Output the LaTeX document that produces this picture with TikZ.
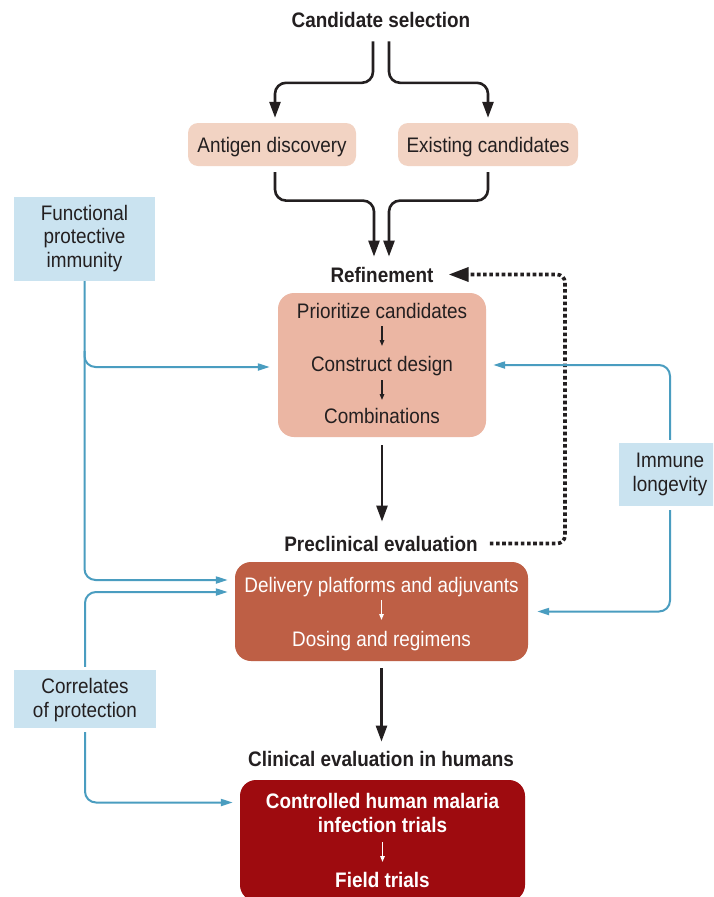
\documentclass[tikz,border=0pt]{standalone}
\usepackage{fontspec}
\setmainfont{Liberation Sans}[FakeStretch=0.9]
\usetikzlibrary{arrows.meta}
\definecolor{ink}{HTML}{231F20}
\definecolor{peach}{HTML}{F2D3C3}
\definecolor{refc}{HTML}{EBB6A3}
\definecolor{prec}{HTML}{BE5F45}
\definecolor{clin}{HTML}{9E0B0F}
\definecolor{lblue}{HTML}{CAE3F0}
\definecolor{bline}{HTML}{4A9DC0}
\tikzset{
  txt/.style={inner sep=0pt, anchor=base, text=ink, font=\fontsize{21}{23.5}\selectfont, align=center},
  btxt/.style={txt, font=\fontsize{21}{23.5}\selectfont\bfseries},
  wtxt/.style={txt, text=white},
  wbtxt/.style={btxt, text=white},
  boxbase/.style={draw=none, inner sep=0pt},
  peachbox/.style={boxbase, fill=peach, rounded corners=10pt},
  bigbox/.style={boxbase, rounded corners=16pt},
  bluebox/.style={boxbase, fill=lblue},
  blkarrow/.style={draw=ink, line width=2.6pt, rounded corners=11pt, -{Triangle[length=16pt,width=11pt]}},
  dotarrow/.style={draw=ink, line width=3.6pt, dash pattern=on 3.6pt off 2.6pt, rounded corners=8pt, -{Triangle[length=20pt,width=14pt]}},
  bluarrow/.style={draw=bline, line width=2pt, rounded corners=11pt, -{Triangle[length=12pt,width=7pt]}},
  sarr/.style={draw=ink, line width=1.3pt, -{Triangle[length=6pt,width=4.5pt]}},
  wsarr/.style={sarr, draw=white, fill=white},
}
\begin{document}
\begin{tikzpicture}[x=1pt,y=-1pt]
\useasboundingbox (0,0) rectangle (713,897);
\clip (0,0) rectangle (713,897);
\fill[white] (0,0) rectangle (713,897);

% boxes
\node[peachbox, minimum width=168pt, minimum height=43pt] (adb) at (272,144.5) {};
\node[peachbox, minimum width=180pt, minimum height=43pt] (ecb) at (488,144.5) {};
\node[bigbox, fill=refc, minimum width=208pt, minimum height=144pt] (rbx) at (382,365) {};
\node[bigbox, fill=prec, minimum width=293pt, minimum height=99pt] (pbx) at (381.5,611.5) {};
\node[bigbox, fill=clin, minimum width=285pt, minimum height=121pt] (cbx) at (382.5,840.5) {};
\node[bluebox, minimum width=141pt, minimum height=84pt] (fpb) at (84.5,239) {};
\node[bluebox, minimum width=142pt, minimum height=58pt] (cpb) at (85,699) {};
\node[bluebox, minimum width=102pt, minimum height=63pt] (ilb) at (670,474.5) {};

% titles
\node[btxt] (cs) at (381,27) {Candidate selection};
\node[btxt] (rf) at (382,282) {Refinement};
\node[btxt] (pe) at (381,551) {Preclinical evaluation};
\node[btxt] (ce) at (381,766) {Clinical evaluation in humans};

% box texts (base = baseline of last line)
\node[txt] (ad) at (272,152) {Antigen discovery};
\node[txt] (ec) at (488,152) {Existing candidates};
\node[txt] (r1) at (382,318) {Prioritize candidates};
\node[txt] (r2) at (382,371) {Construct design};
\node[txt] (r3) at (382,423) {Combinations};
\node[wtxt] (p1) at (381.5,592) {Delivery platforms and adjuvants};
\node[wtxt] (p2) at (381.5,646) {Dosing and regimens};
\node[wbtxt] (c1) at (382.5,832) {Controlled human malaria\\infection trials};
\node[wbtxt] (c2) at (382.5,887) {Field trials};
\node[txt] (fp) at (84.5,267) {Functional\\protective\\immunity};
\node[txt] (cp) at (85,717) {Correlates\\of protection};
\node[txt] (il) at (670,491) {Immune\\longevity};

% candidate selection split
\draw[blkarrow, shorten >=5pt] ([xshift=-8pt,yshift=-14pt]cs.south) |- ([xshift=3pt,yshift=40pt]adb.north) -- ([xshift=3pt]adb.north);
\draw[blkarrow, shorten >=5pt] ([xshift=8pt,yshift=-14pt]cs.south) |- ([yshift=40pt]ecb.north) -- (ecb.north);
% merge into refinement
\draw[blkarrow] ([xshift=3pt,yshift=-6pt]adb.south) |- ([xshift=-8pt,yshift=66pt]rf.north) -- ([xshift=-8pt,yshift=10pt]rf.north);
\draw[blkarrow] ([yshift=-6pt]ecb.south) |- ([xshift=7pt,yshift=66pt]rf.north) -- ([xshift=7pt,yshift=10pt]rf.north);

% main flow
\draw[blkarrow, shorten <=8pt, shorten >=14pt] (rbx.south) -- (rbx.south |- pe.north);
\draw[blkarrow, shorten <=7pt, shorten >=9pt] (pbx.south) -- (pbx.south |- ce.north);

% dotted feedback
\coordinate (dk) at (565,273);
\draw[dotarrow] ([xshift=12pt]pe.east) -| (dk |- rf.east) -- ([xshift=15pt]rf.east);

% small inner arrows
\draw[sarr] ([yshift=-8pt]r1.base) -- ++(0,20);
\draw[sarr] ([yshift=-9pt]r2.base) -- ++(0,20);
\draw[wsarr] ([yshift=-8pt]p1.base) -- ++(0,20);
\draw[wsarr] ([yshift=-10pt]c1.base) -- ++(0,20);

% blue connectors
\draw[bluarrow, shorten >=7pt] (fpb.south) |- ([yshift=31.5pt]pbx.west);
\draw[bluarrow, shorten >=8pt] ([yshift=-70pt]fpb.south) |- ([yshift=-2pt]rbx.west);
\draw[bluarrow, shorten <=3pt, shorten >=7pt] (cpb.north) |- ([yshift=19.5pt]pbx.west);
\draw[bluarrow, shorten <=4pt, shorten >=7pt] (cpb.south) |- ([yshift=38pt]cbx.west);
\draw[bluarrow, shorten <=3pt, shorten >=7pt] (ilb.north) |- (rbx.east);
\draw[bluarrow, shorten <=4pt, shorten >=9pt] (ilb.south) |- (pbx.east);
\end{tikzpicture}
\end{document}
